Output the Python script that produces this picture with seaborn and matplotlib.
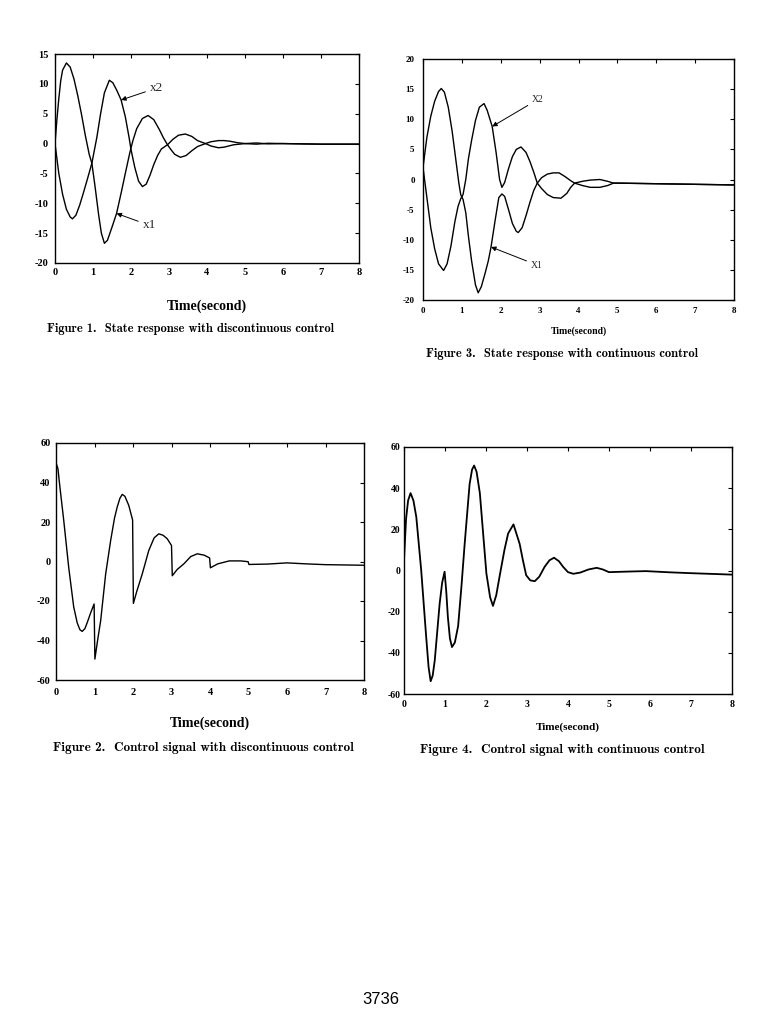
import matplotlib
matplotlib.use("Agg")
import matplotlib.pyplot as plt
import seaborn as sns

# ---------------- Figure 1: state response, discontinuous control ----------------
f1_t_x1 = [0, 0.05, 0.1, 0.15, 0.2, 0.3, 0.4, 0.5, 0.6, 0.7, 0.8, 0.9, 0.97, 1.05, 1.15, 1.22,
           1.3, 1.38, 1.5, 1.62, 1.75, 1.85, 1.97, 2.05, 2.15, 2.3, 2.45, 2.6, 2.75, 2.85, 2.96,
           3.05, 3.15, 3.3, 3.45, 3.6, 3.75, 3.96, 4.1, 4.3, 4.45, 4.6, 4.8, 5.0, 5.3, 5.6, 6.0, 7.0, 8.0]
f1_x1 = [0, 4, 7.5, 10.5, 12.3, 13.5, 12.8, 10.8, 8, 4.8, 1.3, -1.8, -3.3, -7, -12, -15,
         -16.7, -16.2, -14, -11.7, -8, -5, -1.5, 0.5, 2.5, 4.2, 4.7, 4, 2.3, 1, -0.2,
         -1, -1.8, -2.3, -2, -1.2, -0.5, 0, 0.3, 0.5, 0.5, 0.4, 0.15, 0, -0.1, 0.05, 0, -0.1, -0.1]
f1_t_x2 = [0, 0.1, 0.2, 0.3, 0.4, 0.46, 0.55, 0.65, 0.75, 0.85, 0.97, 1.1, 1.2, 1.3, 1.43, 1.52,
           1.62, 1.74, 1.85, 1.95, 2.0, 2.1, 2.2, 2.3, 2.4, 2.5, 2.6, 2.7, 2.8, 2.96, 3.1, 3.25,
           3.43, 3.6, 3.75, 3.96, 4.1, 4.3, 4.45, 4.7, 5.0, 5.3, 5.6, 6.0, 7.0, 8.0]
f1_x2 = [0, -5, -8.5, -11, -12.3, -12.6, -12.0, -10.3, -8.2, -6, -3.3, 1, 5, 8.5, 10.6, 10.2,
         9, 7.3, 4.5, 1, -1, -4, -6.3, -7.2, -6.8, -5.3, -3.5, -2, -0.9, -0.2, 0.7, 1.4,
         1.6, 1.2, 0.5, 0, -0.4, -0.7, -0.6, -0.2, 0, 0.1, -0.05, 0, -0.1, -0.1]

# ---------------- Figure 3: state response, continuous control ----------------
f3_t_x1 = [0, 0.1, 0.2, 0.3, 0.4, 0.47, 0.55, 0.65, 0.75, 0.85, 0.92, 0.97, 1.03, 1.1, 1.17,
           1.25, 1.35, 1.42, 1.5, 1.6, 1.68, 1.75, 1.85, 1.95, 2.03, 2.1, 2.2, 2.3, 2.4, 2.45,
           2.55, 2.65, 2.75, 2.85, 2.94, 3.05, 3.2, 3.35, 3.5, 3.65, 3.8, 3.9, 4.1, 4.3, 4.55,
           4.75, 4.9, 5.0, 6.0, 7.0, 8.0]
f3_x1 = [2, 7, 10.5, 13, 14.6, 15.1, 14.5, 12, 8, 3, -0.5, -2.5, -3.3, -5.5, -9.5,
         -13.5, -17.5, -18.8, -17.8, -15.5, -13.5, -11.2, -7, -3, -2.4, -2.8, -5, -7.3, -8.6, -8.8,
         -8, -6, -3.8, -1.8, -0.6, 0.3, 0.9, 1.1, 1.1, 0.5, -0.2, -0.6, -1.0, -1.3, -1.3,
         -1.0, -0.6, -0.6, -0.7, -0.8, -0.9]
f3_t_x2 = [0, 0.1, 0.2, 0.3, 0.4, 0.53, 0.62, 0.72, 0.82, 0.9, 0.97, 1.03, 1.1, 1.17, 1.25,
           1.35, 1.45, 1.57, 1.65, 1.78, 1.88, 1.97, 2.03, 2.1, 2.2, 2.3, 2.4, 2.52, 2.65, 2.75,
           2.85, 2.94, 3.05, 3.2, 3.35, 3.55, 3.7, 3.8, 3.9, 4.1, 4.3, 4.55, 4.75, 4.9, 5.0,
           6.0, 7.0, 8.0]
f3_x2 = [2, -3, -8, -11.5, -14, -15.1, -14, -11, -7, -4.5, -3.2, -2.5, 0, 3.5, 6.5,
         9.8, 12, 12.6, 11.5, 8.8, 4.5, 0, -1.3, -0.5, 1.8, 3.8, 5, 5.4, 4.5, 3,
         1.2, -0.6, -1.5, -2.5, -3.0, -3.1, -2.3, -1.3, -0.6, -0.3, -0.1, 0.0, -0.3, -0.6, -0.6,
         -0.7, -0.8, -0.9]

# ---------------- Figure 2: control signal, discontinuous control ----------------
f2_t = [0, 0.05, 0.1, 0.2, 0.33, 0.46, 0.55, 0.62, 0.68, 0.75, 0.81, 0.9, 0.99, 1.01, 1.08,
        1.16, 1.29, 1.42, 1.52, 1.59, 1.66, 1.72, 1.79, 1.89, 1.99, 2.01, 2.1, 2.24, 2.41,
        2.55, 2.67, 2.78, 2.89, 3.0, 3.02, 3.15, 3.32, 3.5, 3.67, 3.85, 3.99, 4.01, 4.2,
        4.5, 4.8, 4.99, 5.01, 5.5, 6.0, 6.5, 7.0, 8.0]
f2_u = [50, 47, 38, 21, -3, -23, -31, -34.5, -35.4, -34, -31, -26, -21.5, -49.4, -40,
        -30, -6.3, 10.7, 22, 27.6, 32, 34, 33, 28.4, 21, -21.2, -15, -6.3, 5.6,
        12, 14, 13.3, 11.5, 8.1, -7.2, -4, -1.2, 2.5, 3.9, 3.2, 1.8, -3.2, -1.2,
        0.3, 0.3, -0.1, -1.5, -1.3, -0.7, -1.2, -1.6, -1.9]

# ---------------- Figure 4: control signal, continuous control ----------------
f4_t = [0, 0.05, 0.1, 0.16, 0.23, 0.3, 0.42, 0.54, 0.6, 0.65, 0.7, 0.75, 0.87, 0.93, 0.99,
        1.03, 1.07, 1.12, 1.17, 1.24, 1.32, 1.4, 1.48, 1.6, 1.66, 1.71, 1.77, 1.85, 1.93,
        2.01, 2.1, 2.17, 2.25, 2.33, 2.45, 2.54, 2.67, 2.82, 2.9, 2.98, 3.08, 3.19, 3.3,
        3.43, 3.55, 3.66, 3.78, 3.88, 4.0, 4.13, 4.3, 4.5, 4.7, 4.85, 5.0, 5.5, 5.9, 6.5, 7.0, 8.0]
f4_u = [5, 25, 34, 37.6, 34, 26, 0, -32, -47, -53.8, -51, -43.7, -16, -6, -0.6,
        -10, -22.6, -33, -37.2, -35, -27, -8, 13, 42, 49, 51, 48, 37.6, 18,
        -1.5, -13, -17.2, -12, -3, 10, 18, 22.4, 13, 5, -2.3, -4.8, -5.2, -3,
        1.8, 5, 6.2, 4.5, 1.8, -0.8, -1.6, -1, 0.5, 1.3, 0.5, -0.8, -0.5, -0.3, -0.9, -1.3, -2]

x_ticks = [0, 1, 2, 3, 4, 5, 6, 7, 8]
state_yticks = [-20, -15, -10, -5, 0, 5, 10, 15, 20]
control_yticks = [-60, -40, -20, 0, 20, 40, 60]
xlabel_text = "Time(second)"
captions = ["Figure 1.  State response with discontinuous control",
            "Figure 3.  State response with continuous control",
            "Figure 2.  Control signal with discontinuous control",
            "Figure 4.  Control signal with continuous control"]
page_number = "3736"

sns.set_theme(style="white")
plt.rcParams["font.family"] = ["Liberation Serif", "DejaVu Serif"]
plt.rcParams["font.weight"] = "bold"
plt.rcParams["axes.unicode_minus"] = False
plt.rcParams["axes.edgecolor"] = "black"

W, H = 763, 1032
fig = plt.figure(figsize=(W / 100, H / 100), dpi=100)
fig.patch.set_facecolor("white")


def add_ax(l, t, r, b):
    return fig.add_axes([l / W, 1 - b / H, (r - l) / W, (b - t) / H])


def style(ax, ylim, yticks, tsize, xpad, ypad, lsize, lpad):
    ax.set_xlim(0, 8)
    ax.set_ylim(*ylim)
    ax.set_xticks(x_ticks)
    ax.set_yticks([v for v in yticks if ylim[0] <= v <= ylim[1]])
    ax.tick_params(direction="in", top=True, right=True, length=3, width=0.8,
                   labelsize=tsize, colors="black")
    ax.tick_params(axis="x", pad=xpad)
    ax.tick_params(axis="y", pad=ypad)
    for lab in ax.get_xticklabels() + ax.get_yticklabels():
        lab.set_fontweight("bold")
    for sp in ax.spines.values():
        sp.set_color("black")
        sp.set_linewidth(1.0)
    ax.set_xlabel(xlabel_text, fontsize=lsize, fontweight="bold", labelpad=lpad, color="black")
    ax.set_ylabel("")
    ax.set_facecolor("white")
    ax.grid(False)


def line(ax, t, v, lw=1.0):
    sns.lineplot(x=t, y=v, ax=ax, color="black", linewidth=lw, estimator=None,
                 sort=False, legend=False)


arrow = dict(arrowstyle="-|>", color="black", lw=0.7, mutation_scale=7, shrinkA=1, shrinkB=0)

# Figure 1 (top left)
ax1 = add_ax(55, 54, 359, 263)
line(ax1, f1_t_x1, f1_x1)
line(ax1, f1_t_x2, f1_x2)
style(ax1, (-20, 15), state_yticks, 7.5, 3.5, 5, 10, 16)
ax1.annotate("x2", xy=(1.74, 7.3), xytext=(2.5, 9.3), fontsize=9.5, fontweight="normal",
             va="center", ha="left", arrowprops=arrow)
ax1.annotate("x1", xy=(1.62, -11.7), xytext=(2.31, -13.7), fontsize=9.5, fontweight="normal",
             va="center", ha="left", arrowprops=arrow)

# Figure 3 (top right)
ax3 = add_ax(423, 59, 734, 300)
line(ax3, f3_t_x1, f3_x1)
line(ax3, f3_t_x2, f3_x2)
style(ax3, (-20, 20), state_yticks, 6.5, 5, 6, 7, 8)
ax3.annotate("X2", xy=(1.78, 8.8), xytext=(2.81, 13.3), fontsize=7, fontweight="normal",
             va="center", ha="left", arrowprops=arrow)
ax3.annotate("X1", xy=(1.75, -11.2), xytext=(2.78, -14.2), fontsize=7, fontweight="normal",
             va="center", ha="left", arrowprops=arrow)

# Figure 2 (bottom left)
ax2 = add_ax(56, 443, 364, 680)
line(ax2, f2_t, f2_u)
style(ax2, (-60, 60), control_yticks, 7.5, 6, 4, 10, 14)

# Figure 4 (bottom right)
ax4 = add_ax(404, 447, 732, 694)
line(ax4, f4_t, f4_u, lw=1.3)
style(ax4, (-60, 60), control_yticks, 7, 4, 2.5, 8, 10)

# Captions
cap_pos = [(47, 329, 9), (426, 354, 9), (53, 748, 9.5), (420, 750, 9.5)]
for txt, (x, y, fs) in zip(captions, cap_pos):
    fig.text(x / W, 1 - y / H, txt, fontsize=fs, family=["cmb10", "DejaVu Serif"],
             ha="left", va="center", color="black")

fig.text(381 / W, 1 - 1000 / H, page_number, fontsize=12, family=["Liberation Sans"],
         fontweight="normal", ha="center", va="center", color="black")

fig.savefig("out.png", dpi=100, facecolor="white")
